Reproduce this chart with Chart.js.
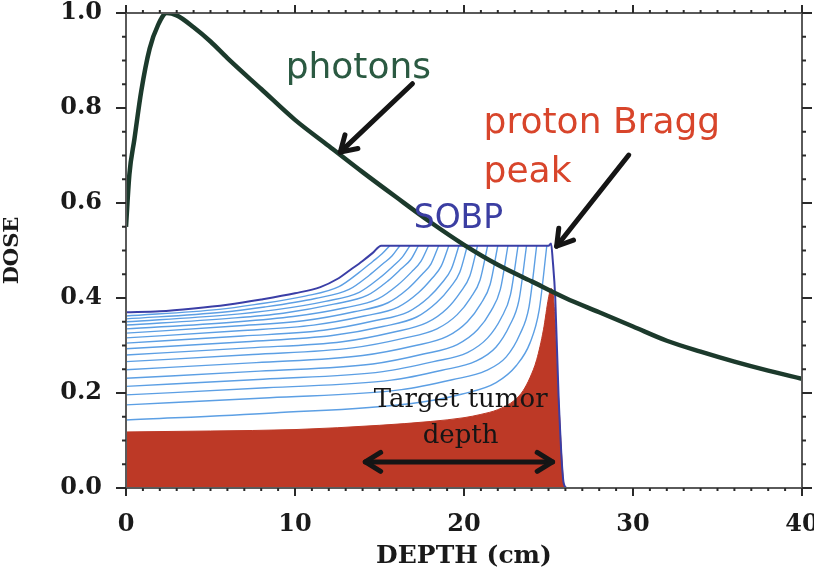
<!DOCTYPE html>
<html><head><meta charset="utf-8">
<script src="https://cdn.jsdelivr.net/npm/chart.js@4.4.0/dist/chart.umd.min.js"></script>
<style>
html,body{margin:0;padding:0;background:#fff;overflow:hidden;width:814px;height:575px}
#wrap{position:absolute;left:0;top:0;width:830px;height:575px}
</style>
</head><body><div id="wrap"><canvas id="c" width="830" height="575"></canvas></div>
<script>
// ---- data (depth in cm, relative dose) ----
const xTicks = [0, 10, 20, 30, 40];
const yTicks = [0.0, 0.2, 0.4, 0.6, 0.8, 1.0];

const photonDepth = [0, 0.2, 0.5, 0.9, 1.4, 1.9, 2.4, 3, 4, 5, 6, 8, 10, 12, 14, 16, 18, 20, 22, 24, 26, 28, 30, 32, 34, 36, 38, 40];
const photonDose  = [0.55, 0.66, 0.735, 0.835, 0.925, 0.975, 1.0, 0.995, 0.97, 0.94, 0.905, 0.84, 0.775, 0.72, 0.665, 0.612, 0.56, 0.512, 0.47, 0.435, 0.40, 0.37, 0.34, 0.31, 0.287, 0.266, 0.247, 0.23];

const braggDepth = [0, 5, 10, 15, 18, 20, 21, 22, 23, 23.5, 23.9, 24.3, 24.7, 25.0, 25.15, 25.3, 25.6, 25.9, 26.0, 40];
const braggDose  = [0.118, 0.12, 0.123, 0.132, 0.14, 0.148, 0.155, 0.165, 0.185, 0.205, 0.232, 0.27, 0.333, 0.40, 0.42, 0.40, 0.19, 0.01, 0, 0];

const sobpDepth = [0, 2, 4, 6, 8, 10, 11.5, 12.5, 13.3, 14, 14.6, 15.1, 20, 25.0, 25.15, 25.25, 25.4, 25.6, 25.9, 26.1, 40];
const sobpDose  = [0.37, 0.372, 0.378, 0.386, 0.397, 0.41, 0.423, 0.44, 0.46, 0.478, 0.495, 0.51, 0.51, 0.51, 0.515, 0.48, 0.40, 0.19, 0.01, 0, 0];

// component (partial-sum) curves, deepest first
const compDepths = [
  [0, 8.7, 16.9, 19.9, 21.9, 23.1, 23.9, 24.45, 24.9],
  [0, 8.5, 16.3, 19.3, 21.3, 22.5, 23.3, 23.85, 24.3],
  [0, 8.3, 15.7, 18.7, 20.7, 21.9, 22.7, 23.25, 23.7],
  [0, 8.1, 15.2, 18.2, 20.2, 21.4, 22.2, 22.75, 23.2],
  [0, 7.9, 14.6, 17.6, 19.6, 20.8, 21.6, 22.15, 22.6],
  [0, 7.7, 14.0, 17.0, 19.0, 20.2, 21.0, 21.55, 22.0],
  [0, 7.5, 13.4, 16.4, 18.4, 19.6, 20.4, 20.95, 21.4],
  [0, 7.3, 12.8, 15.8, 17.8, 19.0, 19.8, 20.35, 20.8],
  [0, 7.1, 12.2, 15.2, 17.2, 18.4, 19.2, 19.75, 20.2],
  [0, 6.9, 11.7, 14.7, 16.7, 17.9, 18.7, 19.25, 19.7],
  [0, 6.7, 11.1, 14.1, 16.1, 17.3, 18.1, 18.65, 19.1],
  [0, 6.5, 10.5, 13.5, 15.5, 16.7, 17.5, 18.05, 18.5],
  [0, 6.3, 9.9, 12.9, 14.9, 16.1, 16.9, 17.45, 17.9],
  [0, 6.1, 9.3, 12.3, 14.3, 15.5, 16.3, 16.85, 17.3],
  [0, 5.9, 8.8, 11.8, 13.8, 15.0, 15.8, 16.35, 16.8],
  [0, 5.7, 8.2, 11.2, 13.2, 14.4, 15.2, 15.75, 16.2],
  [0, 5.5, 7.6, 10.6, 12.6, 13.8, 14.6, 15.15, 15.6]
];
const compDoses = [
  [0.143, 0.158, 0.178, 0.198, 0.222, 0.258, 0.305, 0.375, 0.51],
  [0.175, 0.190, 0.207, 0.228, 0.247, 0.276, 0.323, 0.382, 0.51],
  [0.196, 0.211, 0.227, 0.248, 0.267, 0.297, 0.342, 0.395, 0.51],
  [0.214, 0.229, 0.245, 0.266, 0.285, 0.316, 0.358, 0.407, 0.51],
  [0.231, 0.246, 0.261, 0.282, 0.302, 0.333, 0.373, 0.418, 0.51],
  [0.249, 0.264, 0.279, 0.299, 0.319, 0.350, 0.388, 0.429, 0.51],
  [0.266, 0.281, 0.295, 0.315, 0.335, 0.365, 0.401, 0.438, 0.51],
  [0.280, 0.295, 0.308, 0.328, 0.348, 0.378, 0.413, 0.447, 0.51],
  [0.293, 0.308, 0.321, 0.340, 0.360, 0.391, 0.423, 0.454, 0.51],
  [0.305, 0.320, 0.332, 0.352, 0.371, 0.401, 0.432, 0.461, 0.51],
  [0.316, 0.331, 0.343, 0.362, 0.381, 0.411, 0.441, 0.467, 0.51],
  [0.326, 0.341, 0.352, 0.371, 0.390, 0.420, 0.449, 0.472, 0.51],
  [0.335, 0.349, 0.361, 0.379, 0.398, 0.428, 0.455, 0.477, 0.51],
  [0.343, 0.357, 0.368, 0.387, 0.406, 0.436, 0.462, 0.481, 0.51],
  [0.350, 0.364, 0.375, 0.393, 0.412, 0.442, 0.467, 0.486, 0.51],
  [0.356, 0.370, 0.381, 0.399, 0.418, 0.448, 0.472, 0.489, 0.51],
  [0.362, 0.376, 0.386, 0.404, 0.424, 0.454, 0.477, 0.493, 0.51]
];

// annotation labels (data coordinates)
const labelTexts = ["photons", "proton Bragg", "peak", "SOBP", "Target tumor", "depth"];
const tumorRange = [14.16, 25.24];

// ---- build datasets ----
const pts = (xs, ys) => xs.map((v, i) => ({x: v, y: ys[i]}));
const datasets = [];
datasets.push({label: 'photons', data: pts(photonDepth, photonDose), borderColor: '#1c3a2c', borderWidth: 4.5,
  pointRadius: 0, fill: false, cubicInterpolationMode: 'monotone', order: 0});
datasets.push({label: 'SOBP', data: pts(sobpDepth, sobpDose), borderColor: '#3a3ea6', borderWidth: 2,
  pointRadius: 0, fill: false, cubicInterpolationMode: 'monotone', order: 1});
compDepths.forEach((xs, k) => {
  datasets.push({label: 'comp' + k, data: pts(xs, compDoses[k]), borderColor: '#5c9fe4', borderWidth: 1.4,
    pointRadius: 0, fill: false, cubicInterpolationMode: 'monotone', order: 2});
});
datasets.push({label: 'Bragg', data: pts(braggDepth, braggDose), borderColor: '#bd3926', backgroundColor: '#bd3926',
  borderWidth: 1, pointRadius: 0, fill: 'origin', cubicInterpolationMode: 'monotone', order: 3});

// ---- plugins ----
const frame = {
  id: 'frame',
  afterDatasetsDraw(chart) {
    const {ctx, chartArea: a, scales: {x, y}} = chart;
    const ln = (x1, y1, x2, y2) => { ctx.beginPath(); ctx.moveTo(x1, y1); ctx.lineTo(x2, y2); ctx.stroke(); };
    ctx.save();
    ctx.strokeStyle = '#5a5a5a'; ctx.lineWidth = 2;
    ctx.strokeRect(a.left, a.top, a.right - a.left, a.bottom - a.top);
    ctx.strokeStyle = '#2a2a2a'; ctx.lineWidth = 2;
    for (let i = 0; i <= 40; i++) {
      const px = x.getPixelForValue(i); const L = i % 10 === 0 ? 8 : 3;
      ln(px, a.bottom, px, a.bottom + L); ln(px, a.top, px, a.top - L);
    }
    for (let i = 0; i <= 20; i++) {
      const py = y.getPixelForValue(i * 0.05); const L = i % 4 === 0 ? 10 : 4;
      ln(a.left - L, py, a.left, py); ln(a.right, py, a.right + L, py);
    }
    ctx.restore();
  }
};

function arrowHead(ctx, x1, y1, x2, y2, len) {
  const ang = Math.atan2(y2 - y1, x2 - x1);
  ctx.beginPath();
  ctx.moveTo(x2 - len * Math.cos(ang - 0.55), y2 - len * Math.sin(ang - 0.55));
  ctx.lineTo(x2, y2);
  ctx.lineTo(x2 - len * Math.cos(ang + 0.55), y2 - len * Math.sin(ang + 0.55));
  ctx.stroke();
}
function arrow(ctx, x1, y1, x2, y2, both) {
  ctx.beginPath(); ctx.moveTo(x1, y1); ctx.lineTo(x2, y2); ctx.stroke();
  arrowHead(ctx, x1, y1, x2, y2, 18);
  if (both) arrowHead(ctx, x2, y2, x1, y1, 18);
}

const notes = {
  id: 'notes',
  afterDatasetsDraw(chart) {
    const {ctx, scales: {x, y}} = chart;
    const X = v => x.getPixelForValue(v), Y = v => y.getPixelForValue(v);
    ctx.save();
    ctx.textBaseline = 'alphabetic';
    ctx.font = '36px "DejaVu Sans"'; ctx.fillStyle = '#2b5a42'; ctx.textAlign = 'center';
    ctx.fillText(labelTexts[0], X(13.75), Y(0.863));
    ctx.font = '36px "DejaVu Sans"'; ctx.fillStyle = '#d8452b'; ctx.textAlign = 'left';
    ctx.fillText(labelTexts[1], X(21.16), Y(0.747));
    ctx.fillText(labelTexts[2], X(21.16), Y(0.644));
    ctx.font = '33px "DejaVu Sans"'; ctx.fillStyle = '#3b3ea2'; ctx.textAlign = 'center';
    ctx.fillText(labelTexts[3], X(19.67), Y(0.547));
    ctx.font = '26px "DejaVu Serif"'; ctx.fillStyle = '#151515'; ctx.textAlign = 'center';
    ctx.fillText(labelTexts[4], X(19.8), Y(0.171));
    ctx.fillText(labelTexts[5], X(19.8), Y(0.095));
    ctx.strokeStyle = '#151515'; ctx.lineWidth = 5; ctx.lineCap = 'round'; ctx.lineJoin = 'round';
    arrow(ctx, X(16.95), Y(0.851), X(12.68), Y(0.707), false);
    arrow(ctx, X(29.75), Y(0.701), X(25.48), Y(0.509), false);
    arrow(ctx, X(tumorRange[0]), Y(0.055), X(tumorRange[1]), Y(0.055), true);
    ctx.restore();
  }
};

const tickFont = {family: '"DejaVu Serif"', size: 24, weight: 'bold'};
new Chart(document.getElementById('c'), {
  type: 'line',
  data: {datasets},
  options: {
    responsive: false, animation: false, devicePixelRatio: 1,
    layout: {padding: {left: 0, top: 13, right: 28, bottom: 0}},
    plugins: {legend: {display: false}, tooltip: {enabled: false}},
    scales: {
      x: {type: 'linear', min: 0, max: 40,
        grid: {display: false, drawTicks: false}, border: {display: false},
        afterBuildTicks: s => { s.ticks = xTicks.map(v => ({value: v})); },
        ticks: {font: tickFont, color: '#1a1a1a', padding: 22, maxRotation: 0, callback: v => String(v)},
        title: {display: true, text: 'DEPTH (cm)', font: {family: '"DejaVu Serif"', size: 25, weight: 'bold'}, color: '#1a1a1a', padding: {top: 0, bottom: 4}},
        afterFit: s => { s.height = 87; s.paddingLeft = 0; s.paddingRight = 0; }
      },
      y: {type: 'linear', min: 0, max: 1.0,
        grid: {display: false, drawTicks: false}, border: {display: false},
        afterBuildTicks: s => { s.ticks = yTicks.map(v => ({value: v})); },
        ticks: {font: tickFont, color: '#1a1a1a', padding: 24, callback: v => Number(v).toFixed(1)},
        title: {display: true, text: 'DOSE', font: {family: '"DejaVu Serif"', size: 21, weight: 'bold'}, color: '#1a1a1a', padding: {top: 0, bottom: 6}},
        afterFit: s => { s.width = 126; s.paddingTop = 0; s.paddingBottom = 0; }
      }
    }
  },
  plugins: [frame, notes]
});
</script>
</body></html>
